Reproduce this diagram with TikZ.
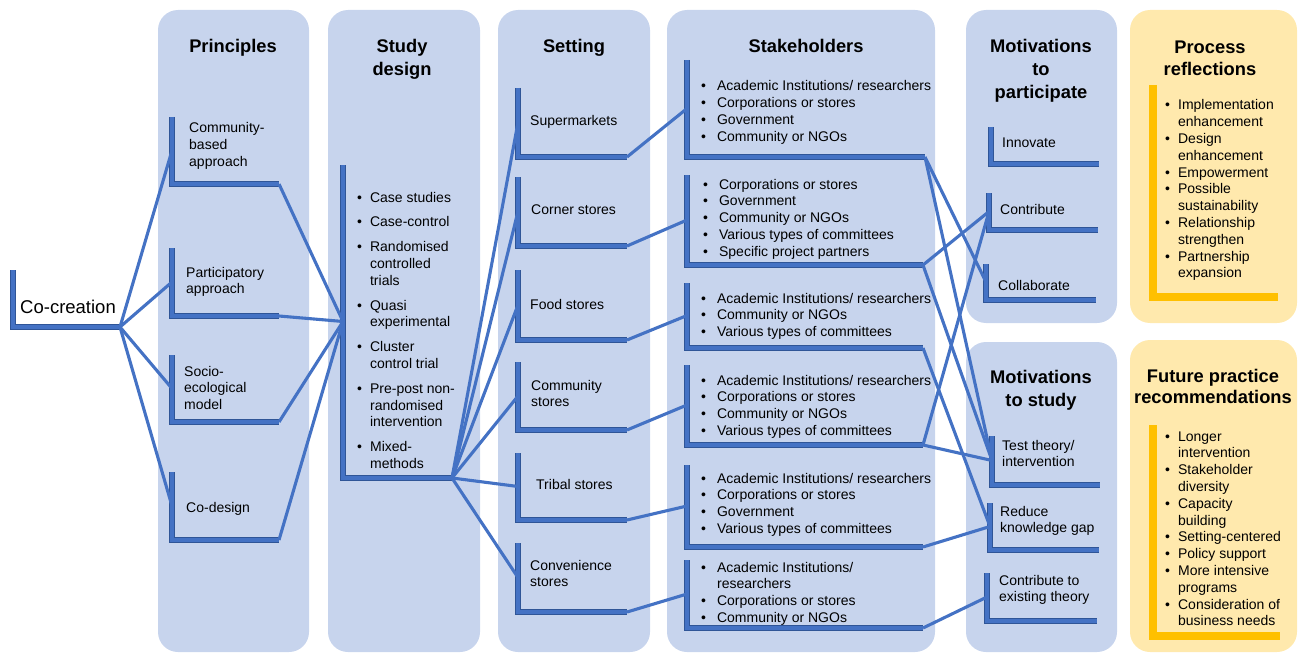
\documentclass[tikz,border=0pt]{standalone}
\usepackage{fontspec}
\setmainfont{Liberation Sans}
\usepackage{tikz}
\definecolor{panelblue}{RGB}{199,212,237}
\definecolor{panelyellow}{RGB}{255,233,173}
\definecolor{linkblue}{RGB}{68,114,196}
\definecolor{linkdark}{RGB}{47,85,151}
\definecolor{baryellow}{RGB}{255,192,0}
\tikzset
{
  panel/.style={fill=panelblue,rounded corners=20pt},
  ypanel/.style={fill=panelyellow,rounded corners=20pt},
  bracket/.style={draw=linkdark,line width=0.9pt,double=linkblue,double distance=3.8pt},
  ybracket/.style={draw=baryellow,line width=8pt},
  link/.style={linkblue,line width=3.1pt},
  head/.style={font=\bfseries\fontsize{18.3}{23}\selectfont,anchor=base,inner sep=0pt},
  txt/.style={font=\fontsize{14}{16.8}\selectfont,anchor=base west,inner sep=0pt}
}
\newcommand{\cola}[1]{\begin{tabular}[t]{@{}l@{}}#1\end{tabular}}
\newcommand{\colc}[1]{\begin{tabular}[t]{@{}c@{}}#1\end{tabular}}
\newcommand{\bul}[2]{\begin{tabular}[t]{@{}l@{\hspace{#1}}l@{}}#2\end{tabular}}
\begin{document}
\begin{tikzpicture}[x=1pt,y=-1pt]
            \useasboundingbox (0,0) rectangle (1301,658);
            % stolpci
            \fill[panel]  (158,10)  rectangle (309,652);
            \fill[panel]  (328,10)  rectangle (480,652);
            \fill[panel]  (498,10)  rectangle (650,652);
            \fill[panel]  (667,10)  rectangle (935,652);
            \fill[panel]  (966,10)  rectangle (1117,323);
            \fill[panel]  (966,342) rectangle (1117,652);
            \fill[ypanel] (1130,10) rectangle (1297,323);
            \fill[ypanel] (1130,340) rectangle (1297,652);

            % naslovi
            \node[head] (hPrin)  at (233,53)   {Principles};
            \node[head] (hStudy) at (402,53)   {\colc{Study\\design}};
            \node[head] (hSet)   at (574,53)   {Setting};
            \node[head] (hStake) at (806,53)   {Stakeholders};
            \node[head] (hPart)  at (1041,53)  {\colc{Motivations\\to\\participate}};
            \node[head] (hMstud) at (1041,383) {\colc{Motivations\\to study}};
            \node[head,font=\bfseries\fontsize{18.3}{22}\selectfont] (hProc) at (1210,54) {\colc{Process\\reflections}};
            \node[head,font=\bfseries\fontsize{18.3}{21}\selectfont] (hFut)  at (1213,382) {\colc{Future practice\\recommendations}};

            % oklepaji: ime/x/zgoraj/spodaj/desno
            \foreach \n/\x/\t/\b/\r in {cc/13/270/327/120,
                pr1/172/117/184/279, pr2/172/248/316/279, pr3/172/355/422/279, pr4/172/472/540/279,
                sd/343/165/478/452,
                se1/518/88/157/627, se2/518/177/246/627, se3/518/270/340/627,
                se4/518/362/430/627, se5/518/453/520/627, se6/518/543/612/627,
                sh1/687/60/157/925, sh2/687/175/265/923, sh3/687/283/348/923,
                sh4/687/365/445/923, sh5/687/465/547/923, sh6/687/560/628/923,
                mp1/991/127/164/1099, mp2/989/193/230/1098, mp3/986/264/300/1096,
                ms1/992/436/485/1100, ms2/990/503/550/1099, ms3/987/573/621/1097}
            {
              \draw[bracket] (\x,\t) -- (\x,\b) -- (\r,\b);
              \coordinate (\n-m) at (\x,{(\t+\b)/2});
              \coordinate (\n-r) at (\r,\b);
            }
            \draw[ybracket] (1153,85)  -- (1153,297) -- (1278,297);
            \draw[ybracket] (1153,425) -- (1153,636) -- (1280,636);

            % povezave
            \foreach \i in {1,...,4}
            {
              \draw[link] (cc-r) -- (pr\i-m);
              \draw[link] (pr\i-r) -- (sd-m);
            }
            \foreach \i in {1,...,6}
            {
              \draw[link] (sd-r) -- (se\i-m);
              \draw[link] (se\i-r) -- (sh\i-m);
            }
            \foreach \a/\b in {sh1/mp3, sh1/ms1, sh2/mp2, sh2/ms1, sh3/ms2,
                               sh4/mp2, sh4/ms1, sh5/ms2, sh6/ms3}
              \draw[link] (\a-r) -- (\b-m);

            % besedila
            \node[txt,font=\fontsize{18.5}{22}\selectfont] (tCo) at (20,313) {Co-creation};
            \node[txt] (tPr1) at (189,133) {\cola{Community-\\based\\approach}};
            \node[txt] (tPr2) at (186,277) {\cola{Participatory\\approach}};
            \node[txt] (tPr3) at (184,376) {\cola{Socio-\\ecological\\model}};
            \node[txt] (tPr4) at (186,512) {Co-design};
            \node[txt] (tSd) at (357,202) {\bul{8pt}{\textbullet & Case studies\\[8pt]
                \textbullet & Case-control\\[8pt]
                \textbullet & Randomised\\ & controlled\\ & trials\\[8pt]
                \textbullet & Quasi\\ & experimental\\[8pt]
                \textbullet & Cluster\\ & control trial\\[8pt]
                \textbullet & Pre-post non-\\ & randomised\\ & intervention\\[8pt]
                \textbullet & Mixed-\\ & methods}};
            \node[txt] (tSe1) at (530,126) {Supermarkets};
            \node[txt] (tSe2) at (531,214) {Corner stores};
            \node[txt] (tSe3) at (530,309) {Food stores};
            \node[txt] (tSe4) at (531,390) {\cola{Community\\stores}};
            \node[txt] (tSe5) at (536,489) {Tribal stores};
            \node[txt] (tSe6) at (530,570) {\cola{Convenience\\stores}};
            \node[txt] (tSh1) at (701,91) {\bul{11pt}{\textbullet & Academic Institutions/ researchers\\
                \textbullet & Corporations or stores\\ \textbullet & Government\\ \textbullet & Community or NGOs}};
            \node[txt] (tSh2) at (703,189) {\bul{11pt}{\textbullet & Corporations or stores\\
                \textbullet & Government\\ \textbullet & Community or NGOs\\
                \textbullet & Various types of committees\\ \textbullet & Specific project partners}};
            \node[txt] (tSh3) at (701,303) {\bul{11pt}{\textbullet & Academic Institutions/ researchers\\
                \textbullet & Community or NGOs\\ \textbullet & Various types of committees}};
            \node[txt] (tSh4) at (701,385) {\bul{11pt}{\textbullet & Academic Institutions/ researchers\\
                \textbullet & Corporations or stores\\ \textbullet & Community or NGOs\\
                \textbullet & Various types of committees}};
            \node[txt] (tSh5) at (701,483) {\bul{11pt}{\textbullet & Academic Institutions/ researchers\\
                \textbullet & Corporations or stores\\ \textbullet & Government\\
                \textbullet & Various types of committees}};
            \node[txt] (tSh6) at (701,572) {\bul{11pt}{\textbullet & Academic Institutions/\\ & researchers\\
                \textbullet & Corporations or stores\\ \textbullet & Community or NGOs}};
            \node[txt] (tMp1) at (1002,148) {Innovate};
            \node[txt] (tMp2) at (1000,214) {Contribute};
            \node[txt] (tMp3) at (998,290)  {Collaborate};
            \node[txt] (tMs1) at (1002,450) {\cola{Test theory/\\intervention}};
            \node[txt] (tMs2) at (1000,516) {\cola{Reduce\\knowledge gap}};
            \node[txt] (tMs3) at (999,585)  {\cola{Contribute to\\existing theory}};
            \node[txt] (tProc) at (1165,110) {\bul{8pt}{\textbullet & Implementation\\ & enhancement\\
                \textbullet & Design\\ & enhancement\\ \textbullet & Empowerment\\
                \textbullet & Possible\\ & sustainability\\ \textbullet & Relationship\\ & strengthen\\
                \textbullet & Partnership\\ & expansion}};
            \node[txt] (tFut) at (1165,441) {\bul{8pt}{\textbullet & Longer\\ & intervention\\
                \textbullet & Stakeholder\\ & diversity\\ \textbullet & Capacity\\ & building\\
                \textbullet & Setting-centered\\ \textbullet & Policy support\\
                \textbullet & More intensive\\ & programs\\ \textbullet & Consideration of\\ & business needs}};
        \end{tikzpicture}
\end{document}
